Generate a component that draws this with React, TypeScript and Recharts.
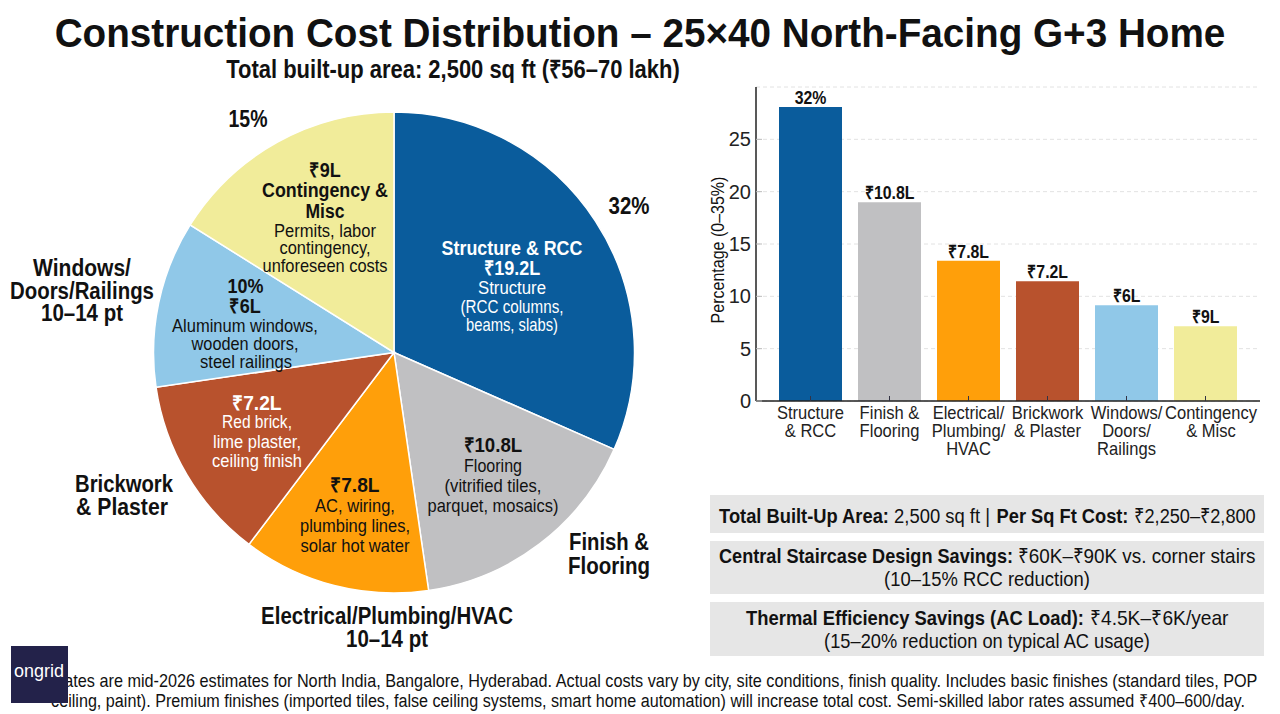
import React, { useLayoutEffect, useRef } from "react";
import { PieChart, Pie, Cell, BarChart, Bar, XAxis, YAxis, CartesianGrid, LabelList } from "recharts";

const sliceNames = ["Structure & RCC", "Finish & Flooring", "Electrical/Plumbing/HVAC", "Brickwork & Plaster", "Windows/Doors/Railings", "Contingency & Misc"];
const sliceValues = [31.6, 16.1, 12.6, 12.4, 11.2, 16.1];
const barNames = ["Structure\n& RCC", "Finish &\nFlooring", "Electrical/\nPlumbing/\nHVAC", "Brickwork\n& Plaster", "Windows/\nDoors/\nRailings", "Contingency\n& Misc"];
const barValues = [28.1, 19, 13.4, 11.45, 9.15, 7.15];
const barLabels = ["32%", "₹10.8L", "₹7.8L", "₹7.2L", "₹6L", "₹9L"];
const yTicks = [0, 5, 10, 15, 20, 25];
const colors = ["#0a5c9c", "#c0c0c2", "#ff9f0a", "#b8522d", "#90c8e8", "#f1ec9a"];

const pieData = sliceNames.map((name, i) => ({ name, value: sliceValues[i] }));
const barData = barNames.map((name, i) => ({ name, value: barValues[i], label: barLabels[i] }));

const FONT = "'Liberation Sans', Arial, sans-serif";
const INK = "#111";

// centred text squeezed to width w, the reference type is narrower than Liberation Sans
function T({ x, y, w, s = 18, b = false, c = INK, children }: any) {
  const ref = useRef<SVGTextElement>(null);
  useLayoutEffect(() => {
    const el = ref.current;
    if (!el) return;
    const natural = el.getComputedTextLength();
    el.setAttribute("transform", `translate(${x},${y}) scale(${w / natural},1)`);
  }, [x, y, w]);
  return (
    <text ref={ref} transform={`translate(${x},${y})`} textAnchor="middle" fontFamily={FONT} fontSize={s} fontWeight={b ? 700 : 400} fill={c}>
      {children}
    </text>
  );
}

function CategoryTick({ x, y, payload, index }: any) {
  const lines = String(payload.value).split("\n");
  // the last label sits a little right of its bar so it clears "Windows/"
  const nudge = index === barNames.length - 1 ? 5.5 : 0;
  return (
    <text transform={`translate(${x + nudge},${y}) scale(0.92,1)`} textAnchor="middle" fontFamily={FONT} fontSize={18} fill="#222">
      {lines.map((l, i) => (
        <tspan key={i} x={0} y={21 + i * 18}>{l}</tspan>
      ))}
    </text>
  );
}

// bar caption, squeezed a bit because the reference type is narrow
function BarTag({ x, y, width, value }: any) {
  return (
    <text transform={`translate(${x + width / 2},${y - 3}) scale(0.88,1)`} textAnchor="middle" fontFamily={FONT}
      fontSize={18} fontWeight={700} fill={INK}>
      {value}
    </text>
  );
}

export default function App() {
  return (
    <div style={{ position: "absolute", left: 0, top: 0, width: 1280, height: 714, background: "#fff", overflow: "hidden" }}>
      <style>{"body{margin:0}"}</style>

      <div style={{ position: "absolute", left: 0, top: 0 }}>
        <PieChart width={790} height={702} margin={{ top: 0, right: 0, bottom: 0, left: 0 }}>
          <Pie data={pieData} dataKey="value" nameKey="name" cx={394} cy={352.5} outerRadius={240.5} startAngle={90} endAngle={-270}
            stroke="#fff" strokeWidth={1.5} isAnimationActive={false} label={false} labelLine={false}>
            {pieData.map((d, i) => <Cell key={d.name} fill={colors[i]} />)}
          </Pie>
        </PieChart>
      </div>

      <div style={{ position: "absolute", left: 700, top: 70 }}>
        <BarChart width={570} height={400} data={barData} margin={{ top: 17, right: 10, bottom: 0, left: 0 }}>
          <CartesianGrid vertical={false} strokeDasharray="4 3" stroke="#e2e2e2" />
          <XAxis dataKey="name" interval={0} height={69} padding={{ left: 15, right: 15 }} tick={<CategoryTick />}
            axisLine={{ stroke: "#222", strokeWidth: 1.5 }} tickLine={{ stroke: "#334" }} tickSize={-5} />
          <YAxis width={56} domain={[0, 30]} ticks={yTicks} tickSize={-6} tickMargin={11}
            axisLine={{ stroke: "#222", strokeWidth: 1.5 }} tickLine={{ stroke: "#bbb" }}
            tick={{ fontSize: 20, fill: "#222", fontFamily: FONT }} />
          <Bar dataKey="value" barSize={63} isAnimationActive={false}>
            {barData.map((d, i) => <Cell key={d.name} fill={colors[i]} />)}
            <LabelList dataKey="label" content={<BarTag />} />
          </Bar>
        </BarChart>
      </div>

      {/* note panels */}
      <div style={{ position: "absolute", left: 710, top: 495, width: 554, height: 38, background: "#e6e6e6" }} />
      <div style={{ position: "absolute", left: 710, top: 541, width: 554, height: 53, background: "#e6e6e6" }} />
      <div style={{ position: "absolute", left: 710, top: 602, width: 554, height: 54, background: "#e6e6e6" }} />

      <svg width={1280} height={714} style={{ position: "absolute", left: 0, top: 0 }}>
        <T x={640} y={47} w={1171} s={40} b>Construction Cost Distribution – 25×40 North-Facing G+3 Home</T>
        <T x={453} y={78} w={454} s={25} b>Total built-up area: 2,500 sq ft (₹56–70 lakh)</T>

        <g transform="translate(724,250) rotate(-90)">
          <T x={0} y={0} w={147} s={19}>Percentage (0–35%)</T>
        </g>

        <T x={248} y={127} w={39} s={24} b>15%</T>
        <T x={629} y={214} w={41} s={24} b>32%</T>

        <T x={325} y={177} w={31} s={20} b>₹9L</T>
        <T x={325} y={197} w={126} s={20} b>Contingency &amp;</T>
        <T x={325} y={218} w={39} s={20} b>Misc</T>
        <T x={325} y={237} w={102} s={18}>Permits, labor</T>
        <T x={325} y={254} w={91} s={18}>contingency,</T>
        <T x={325} y={272} w={125} s={18}>unforeseen costs</T>

        <T x={512} y={255} w={141} s={20} b c="#fff">Structure &amp; RCC</T>
        <T x={512} y={275} w={56} s={20} b c="#fff">₹19.2L</T>
        <T x={512} y={294} w={68} s={18} c="#fff">Structure</T>
        <T x={512} y={313} w={103} s={18} c="#fff">(RCC columns,</T>
        <T x={512} y={331} w={92} s={18} c="#fff">beams, slabs)</T>

        <T x={82} y={276} w={98} s={24} b>Windows/</T>
        <T x={82} y={299} w={144} s={24} b>Doors/Railings</T>
        <T x={82} y={321} w={82} s={24} b>10–14 pt</T>

        <T x={245.5} y={293} w={36} s={20} b>10%</T>
        <T x={245} y={313} w={31} s={20} b>₹6L</T>
        <T x={245} y={332} w={146} s={18}>Aluminum windows,</T>
        <T x={245} y={350} w={107} s={18}>wooden doors,</T>
        <T x={246} y={368} w={92} s={18}>steel railings</T>

        <T x={257} y={410} w={49} s={20} b c="#fff">₹7.2L</T>
        <T x={257} y={428} w={70} s={18} c="#fff">Red brick,</T>
        <T x={257} y={448} w={88} s={18} c="#fff">lime plaster,</T>
        <T x={257} y={467} w={90} s={18} c="#fff">ceiling finish</T>

        <T x={124} y={492} w={98} s={24} b>Brickwork</T>
        <T x={122} y={515} w={92} s={24} b>&amp; Plaster</T>

        <T x={355} y={492} w={49} s={20} b>₹7.8L</T>
        <T x={355} y={512} w={80} s={18}>AC, wiring,</T>
        <T x={355} y={532} w={110} s={18}>plumbing lines,</T>
        <T x={355} y={552} w={109} s={18}>solar hot water</T>

        <T x={493} y={452} w={58} s={20} b>₹10.8L</T>
        <T x={493} y={472} w={58} s={18}>Flooring</T>
        <T x={493} y={492} w={97} s={18}>(vitrified tiles,</T>
        <T x={493} y={512} w={131} s={18}>parquet, mosaics)</T>

        <T x={609} y={550} w={80} s={24} b>Finish &amp;</T>
        <T x={609} y={574} w={82} s={24} b>Flooring</T>

        <T x={387} y={624} w={252} s={24} b>Electrical/Plumbing/HVAC</T>
        <T x={387} y={647} w={82} s={24} b>10–14 pt</T>

        <T x={804} y={523} w={170} s={21} b>Total Built-Up Area:</T>
        <T x={942} y={523} w={96} s={21}>2,500 sq ft |</T>
        <T x={1062.5} y={523} w={132} s={21} b>Per Sq Ft Cost:</T>
        <T x={1195} y={523} w={122} s={21}>₹2,250–₹2,800</T>

        <T x={866} y={563} w={294} s={21} b>Central Staircase Design Savings:</T>
        <T x={1137} y={563} w={238} s={21}>₹60K–₹90K vs. corner stairs</T>
        <T x={987} y={586} w={206} s={21}>(10–15% RCC reduction)</T>

        <T x={915} y={625} w={338} s={21} b>Thermal Efficiency Savings (AC Load):</T>
        <T x={1159} y={625} w={138} s={21}>₹4.5K–₹6K/year</T>
        <T x={987} y={648} w={326} s={21}>(15–20% reduction on typical AC usage)</T>

        <T x={655} y={687} w={1206} s={18}>Rates are mid-2026 estimates for North India, Bangalore, Hyderabad. Actual costs vary by city, site conditions, finish quality. Includes basic finishes (standard tiles, POP</T>
        <T x={648} y={707} w={1194} s={18}>ceiling, paint). Premium finishes (imported tiles, false ceiling systems, smart home automation) will increase total cost. Semi-skilled labor rates assumed ₹400–600/day.</T>

        <rect x={11} y={646} width={57} height={57} fill="#23224a" />
        <T x={39} y={677} w={50} s={19} c="#fff">ongrid</T>
      </svg>
    </div>
  );
}
